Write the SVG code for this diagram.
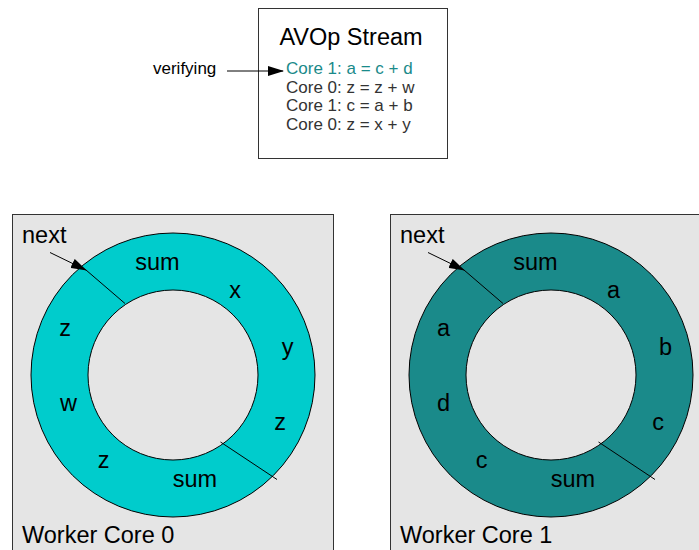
<svg xmlns="http://www.w3.org/2000/svg" width="699" height="550" viewBox="0 0 699 550">
<style>
text{font-family:"Liberation Sans",Arial,sans-serif;}
.big{font-size:23.5px;fill:#000;}
.small{font-size:17px;}
.panel{fill:#e5e5e5;stroke:#333;stroke-width:1;}
.ring{stroke:#000;stroke-width:1;}
.hole{fill:#e5e5e5;stroke:#000;stroke-width:1;}
.div{stroke:#000;stroke-width:1;fill:none;}
.lbl{font-size:23.5px;fill:#000;text-anchor:middle;}
</style>
<defs>
<marker id="ah" markerWidth="16" markerHeight="10" refX="15" refY="5" orient="auto" markerUnits="userSpaceOnUse">
<path d="M0,0 L16,5 L0,10 Z" fill="#000"/>
</marker>
</defs>
<rect width="699" height="550" fill="#fff"/>

<g id="avop-stream">
<rect x="258.5" y="8.5" width="189" height="150" fill="#fff" stroke="#333" stroke-width="1"/>
<text class="big" x="351" y="45" text-anchor="middle">AVOp Stream</text>
<text class="small" x="286" y="73.5" fill="#1a8a8a">Core 1: a = c + d</text>
<text class="small" x="286" y="92.5" fill="#333">Core 0: z = z + w</text>
<text class="small" x="286" y="111" fill="#333">Core 1: c = a + b</text>
<text class="small" x="286" y="130" fill="#333">Core 0: z = x + y</text>
</g>

<g id="verifying-label">
<text class="small" x="153" y="73.5" fill="#000">verifying</text>
</g>

<g id="worker-core-0">
<rect class="panel" x="12.5" y="214.5" width="321" height="345"/>
<circle class="ring" cx="173" cy="375" r="142" fill="#00cccc"/>
<circle class="hole" cx="173" cy="375" r="85"/>
<text class="big" x="22" y="243">next</text>
<text class="lbl" x="157.5" y="270">sum</text>
<text class="lbl" x="235" y="298">x</text>
<text class="lbl" x="287.5" y="355">y</text>
<text class="lbl" x="280" y="430">z</text>
<text class="lbl" x="195" y="487">sum</text>
<text class="lbl" x="103.5" y="468">z</text>
<text class="lbl" x="68.5" y="411">w</text>
<text class="lbl" x="65" y="336">z</text>
<text class="big" x="22" y="543">Worker Core 0</text>
</g>

<g id="worker-core-1">
<rect class="panel" x="390.5" y="214.5" width="321" height="345"/>
<circle class="ring" cx="551" cy="375" r="142" fill="#1a8a8a"/>
<circle class="hole" cx="551" cy="375" r="85"/>
<text class="big" x="400" y="243">next</text>
<text class="lbl" x="535.5" y="270">sum</text>
<text class="lbl" x="613.5" y="298">a</text>
<text class="lbl" x="665.5" y="355">b</text>
<text class="lbl" x="658" y="430">c</text>
<text class="lbl" x="573" y="487">sum</text>
<text class="lbl" x="481.5" y="468">c</text>
<text class="lbl" x="443.5" y="411">d</text>
<text class="lbl" x="443.5" y="336">a</text>
<text class="big" x="400" y="543">Worker Core 1</text>
</g>

<g id="connectors">
<line class="div" x1="227" y1="71" x2="283" y2="71" marker-end="url(#ah)"/>
<line class="div" x1="50" y1="252.5" x2="86" y2="270" marker-end="url(#ah)"/>
<line class="div" x1="86" y1="270" x2="125" y2="303.5"/>
<line class="div" x1="220.5" y1="442" x2="277" y2="479.5"/>
<line class="div" x1="428" y1="252.5" x2="464" y2="270" marker-end="url(#ah)"/>
<line class="div" x1="464" y1="270" x2="503" y2="303.5"/>
<line class="div" x1="598.5" y1="442" x2="655" y2="479.5"/>
</g>
</svg>
